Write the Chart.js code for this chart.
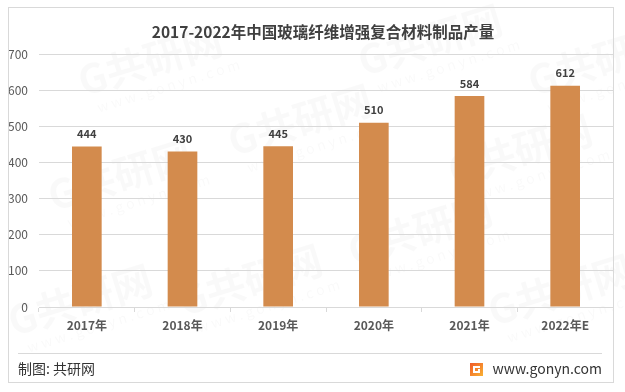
<!DOCTYPE html>
<html><head><meta charset="utf-8">
<script src="https://cdn.jsdelivr.net/npm/chart.js@4/dist/chart.umd.min.js"></script>
<style>html,body{margin:0;padding:0;background:#fff}#wrap{width:625px;height:392px;position:relative}</style>
</head><body><div id="wrap"><canvas id="c" width="625" height="392"></canvas></div>
<script>
const categories = ["2017年","2018年","2019年","2020年","2021年","2022年E"];
const values = [444, 430, 445, 510, 584, 612];
const yTicks = [0,100,200,300,400,500,600,700];
const titleText = "2017-2022年中国玻璃纤维增强复合材料制品产量";
const sourceText = "制图: 共研网";
const siteText = "www.gonyn.com";

const FONT = '"Microsoft YaHei","Noto Sans CJK SC","Noto Sans",sans-serif';

const decor = {
  id: 'decor',
  beforeDraw(chart) {
    const ctx = chart.ctx;
    ctx.save();
    ctx.fillStyle = '#fff';
    ctx.fillRect(0,0,625,392);
    // watermarks
    ctx.fillStyle = 'rgba(0,0,0,0.022)';
    const marks = [[150,60],[430,40],[120,175],[300,120],[520,150],[250,280],[80,300],[560,290],[420,230],[600,60]];
    marks.forEach(([x,y]) => {
      ctx.save(); ctx.translate(x,y); ctx.rotate(-0.3);
      ctx.font = 'bold 40px ' + FONT; ctx.textAlign='center'; ctx.textBaseline='middle';
      ctx.fillText('G共研网', 0, 0);
      ctx.font = '14px ' + FONT;
      ctx.fillText('w w w . g o n y n . c o m', 10, 30);
      ctx.restore();
    });
    ctx.restore();
  },
  afterDraw(chart) {
    const ctx = chart.ctx;
    ctx.save();
    // outer border
    ctx.strokeStyle = '#d9d9d9'; ctx.lineWidth = 1;
    ctx.strokeRect(8.5, 7.5, 605, 375);
    // title
    ctx.fillStyle = '#404040';
    ctx.font = 'bold 15.5px ' + FONT;
    ctx.textAlign = 'center'; ctx.textBaseline = 'middle';
    ctx.fillText(titleText, 323, 32);
    // separator
    ctx.strokeStyle = '#d9d9d9';
    ctx.beginPath(); ctx.moveTo(18, 353.5); ctx.lineTo(602, 353.5); ctx.stroke();
    // footer
    ctx.fillStyle = '#333';
    ctx.font = '14px ' + FONT;
    ctx.textAlign = 'left';
    ctx.fillText(sourceText, 18, 369);
    ctx.textAlign = 'right';
    ctx.fillText(siteText, 602, 369);
    // logo
    const lx = 470, ly = 363;
    const g = ctx.createLinearGradient(lx, ly, lx+13, ly+13);
    g.addColorStop(0, '#f05a28'); g.addColorStop(1, '#f9b233');
    ctx.fillStyle = g;
    ctx.fillRect(lx, ly, 13, 13);
    ctx.fillStyle = '#fff';
    ctx.fillRect(lx+3, ly+3, 7, 2);
    ctx.fillRect(lx+3, ly+3, 2, 7);
    ctx.fillRect(lx+3, ly+8, 7, 2);
    ctx.fillRect(lx+8, ly+6, 2, 4);
    // data labels
    const meta = chart.getDatasetMeta(0);
    ctx.fillStyle = '#404040';
    ctx.font = 'bold 11px ' + FONT;
    ctx.textAlign = 'center'; ctx.textBaseline = 'bottom';
    meta.data.forEach((bar, i) => {
      ctx.fillText(String(values[i]), bar.x, bar.y - 7);
    });
    ctx.restore();
  }
};

new Chart(document.getElementById('c'), {
  type: 'bar',
  data: {
    labels: categories,
    datasets: [{ data: values, backgroundColor: '#d38b4d', barPercentage: 0.31, categoryPercentage: 1 }]
  },
  options: {
    responsive: false,
    animation: false,
    events: [],
    layout: { padding: { left: 0, top: 54, right: 12, bottom: 55 } },
    plugins: { legend: { display: false }, tooltip: { enabled: false }, title: { display: false } },
    scales: {
      x: {
        grid: { display: true, offset: true, drawOnChartArea: false, drawTicks: true, tickLength: 5, color: '#d9d9d9' },
        border: { display: true, color: '#d9d9d9' },
        ticks: { color: '#595959', font: { family: FONT, size: 12, weight: 'bold' }, padding: 6, maxRotation: 0 },
        afterFit(s) { s.height = 30; }
      },
      y: {
        min: 0, max: 700,
        afterBuildTicks(s) { s.ticks = yTicks.map(v => ({ value: v })); },
        grid: { color: '#d9d9d9', drawTicks: false },
        border: { display: false },
        ticks: { color: '#595959', font: { family: FONT, size: 12 }, padding: 11 },
        afterFit(s) { s.width = 39; }
      }
    }
  },
  plugins: [decor]
});
</script>
</body></html>
